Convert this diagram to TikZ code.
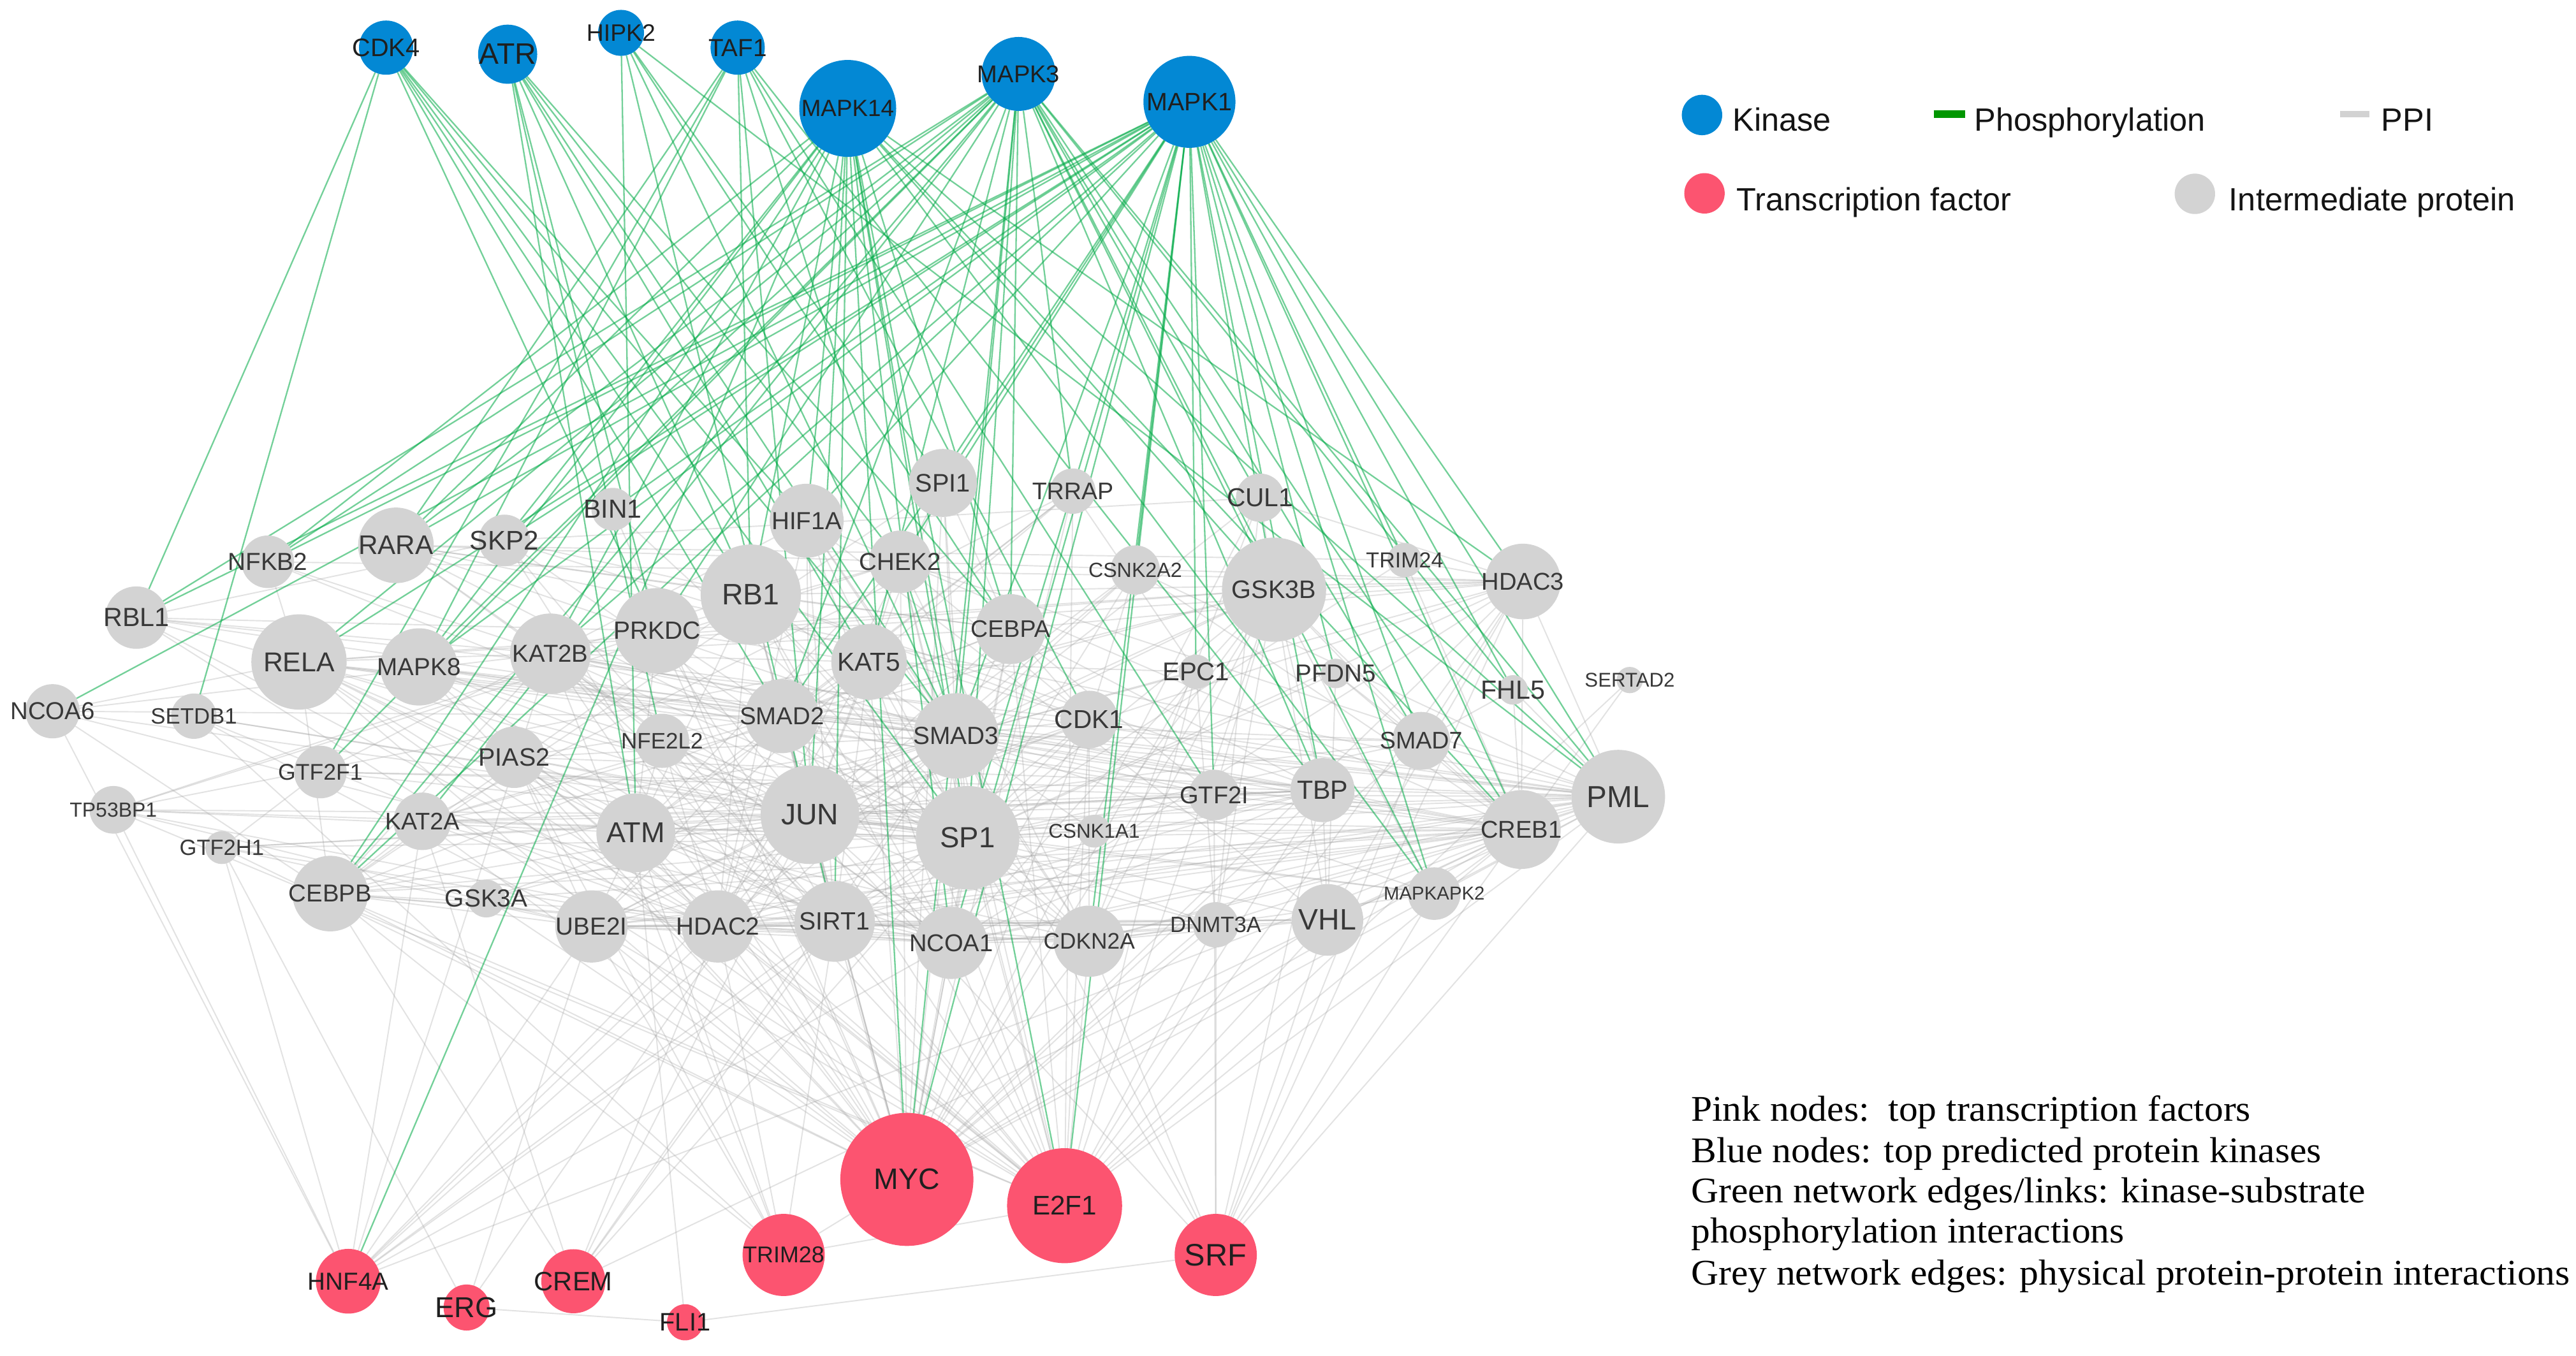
\documentclass[tikz,border=0pt]{standalone}
\usepackage{fontspec}
\setmainfont{Liberation Sans}
\newfontfamily\serifface{Liberation Serif}
\usepackage{graphicx}
\pgfdeclarelayer{bg}
\pgfsetlayers{bg,main}
\definecolor{kinblue}{RGB}{3,136,212}
\definecolor{tfpink}{RGB}{252,84,112}
\definecolor{intgrey}{RGB}{211,211,211}
\definecolor{phosgreen}{RGB}{0,170,70}
\definecolor{legendgreen}{RGB}{0,150,0}
\definecolor{ppigrey}{RGB}{210,210,210}
\tikzset{
  knode/.style={circle, fill=kinblue, draw=none, inner sep=0pt, outer sep=0pt},
  tnode/.style={circle, fill=tfpink, draw=none, inner sep=0pt, outer sep=0pt},
  inode/.style={circle, fill=intgrey, draw=none, inner sep=0pt, outer sep=0pt},
  knodelab/.style={inner sep=0pt, text=black!88},
  tnodelab/.style={inner sep=0pt, text=black!88},
  inodelab/.style={inner sep=0pt, text=black!78},
  gedge/.style={draw=black!35, opacity=0.32, line width=0.75pt},
  pedge/.style={draw=phosgreen, opacity=0.55, line width=0.9pt},
  lgtext/.style={anchor=base west, inner sep=0pt, text=black!92, font=\fontsize{19.6}{19.6}\selectfont},
  note/.style={anchor=base west, inner sep=0pt, text=black, font=\serifface\fontsize{22}{22}\selectfont}
}
\newcommand\pnode[6]{%
  \node[#1, minimum size=#5*2pt] (#2) at (#3,#4) {};
  \node[#1lab, font=\fontsize{#6}{#6}\selectfont] (#2-l) at (#2.center) {#2};
}
\begin{document}
\begin{tikzpicture}[x=1pt, y=-1pt]
\begin{pgfonlayer}{bg}
\fill[white] (0,0) rectangle (1568,825.5);
\end{pgfonlayer}
\useasboundingbox (0,0) rectangle (1568,825.5);

% kinases
\pnode{knode}{CDK4}{235}{29}{16.5}{15.4}
\pnode{knode}{ATR}{309}{33}{18}{18}
\pnode{knode}{HIPK2}{378}{20}{14}{14.5}
\pnode{knode}{TAF1}{449}{29}{16.5}{15}
\pnode{knode}{MAPK14}{516}{66}{29.5}{14.3}
\pnode{knode}{MAPK3}{620}{45}{22.5}{14.8}
\pnode{knode}{MAPK1}{724}{62}{28}{15.3}

% intermediate proteins
\pnode{inode}{SPI1}{574}{294}{20.7}{15.4}
\pnode{inode}{TRRAP}{653}{299}{13.8}{14.6}
\pnode{inode}{CUL1}{767}{303}{14.7}{15.8}
\pnode{inode}{BIN1}{373}{310}{13}{15.9}
\pnode{inode}{HIF1A}{491}{317}{22.5}{15}
\pnode{inode}{NFKB2}{163}{342}{16}{15}
\pnode{inode}{RARA}{241}{332}{23}{16.4}
\pnode{inode}{SKP2}{307}{329}{15.7}{16.4}
\pnode{inode}{CHEK2}{548}{342}{19}{14.9}
\pnode{inode}{CSNK2A2}{691}{347}{15}{12.5}
\pnode{inode}{TRIM24}{855}{341}{10.5}{13.2}
\pnode{inode}{HDAC3}{927}{354}{23}{14.8}
\pnode{inode}{GSK3B}{775.5}{359}{31.7}{15.4}
\pnode{inode}{RB1}{457}{362}{30.5}{18}
\pnode{inode}{RBL1}{83}{376}{19}{16}
\pnode{inode}{PRKDC}{400}{384}{26}{15.2}
\pnode{inode}{CEBPA}{615}{383}{21.3}{14.6}
\pnode{inode}{RELA}{182}{403}{29}{16.6}
\pnode{inode}{MAPK8}{255}{406}{23.5}{15}
\pnode{inode}{KAT2B}{335}{398}{24.5}{14.9}
\pnode{inode}{KAT5}{529}{403}{23}{15.8}
\pnode{inode}{EPC1}{728}{409}{10.5}{15.6}
\pnode{inode}{PFDN5}{813}{410}{9}{15}
\pnode{inode}{SERTAD2}{992}{414}{8}{12.1}
\pnode{inode}{FHL5}{921}{420}{9}{16}
\pnode{inode}{NCOA6}{32}{433}{16.5}{14.9}
\pnode{inode}{SETDB1}{118}{436}{13.8}{13.5}
\pnode{inode}{SMAD2}{476}{436}{22.5}{14.9}
\pnode{inode}{SMAD3}{582}{448}{26}{15.1}
\pnode{inode}{CDK1}{663}{438}{17.5}{15.8}
\pnode{inode}{SMAD7}{865}{451}{17.6}{14.6}
\pnode{inode}{NFE2L2}{403}{451}{16.5}{13.6}
\pnode{inode}{PIAS2}{313}{461}{18.7}{15.3}
\pnode{inode}{GTF2F1}{195}{470}{16}{13.8}
\pnode{inode}{TP53BP1}{69}{493}{14.5}{12.4}
\pnode{inode}{GTF2H1}{135}{516}{10}{13.4}
\pnode{inode}{KAT2A}{257}{500}{17.5}{14.6}
\pnode{inode}{ATM}{387}{507}{24}{17.5}
\pnode{inode}{JUN}{493}{496}{30}{18}
\pnode{inode}{SP1}{589}{510}{31.5}{17.7}
\pnode{inode}{CSNK1A1}{666}{506}{10}{12.2}
\pnode{inode}{GTF2I}{739}{484}{15.4}{14.8}
\pnode{inode}{TBP}{805}{481}{19.5}{16}
\pnode{inode}{CREB1}{926}{505}{24}{14.8}
\pnode{inode}{PML}{985}{485}{28.5}{18.5}
\pnode{inode}{CEBPB}{201}{544}{23}{14.9}
\pnode{inode}{GSK3A}{296}{547}{11.5}{15.1}
\pnode{inode}{UBE2I}{360}{564}{22}{15}
\pnode{inode}{HDAC2}{437}{564}{22}{15}
\pnode{inode}{SIRT1}{508}{561}{24.5}{15.2}
\pnode{inode}{NCOA1}{579}{574}{22}{14.8}
\pnode{inode}{CDKN2A}{663}{573}{21.7}{13.7}
\pnode{inode}{DNMT3A}{740}{563}{13.8}{13.5}
\pnode{inode}{VHL}{808}{560}{21.8}{18}
\pnode{inode}{MAPKAPK2}{873}{544}{16}{11.4}

% transcription factors
\pnode{tnode}{MYC}{552}{718}{40.5}{18}
\pnode{tnode}{E2F1}{648}{734}{35}{16.4}
\pnode{tnode}{TRIM28}{477}{764}{25}{13.9}
\pnode{tnode}{SRF}{740}{764}{25}{18.9}
\pnode{tnode}{HNF4A}{212}{780}{19.7}{15}
\pnode{tnode}{ERG}{284}{796}{14}{17.5}
\pnode{tnode}{CREM}{349}{780}{19.5}{16.2}
\pnode{tnode}{FLI1}{417}{805}{11}{15.4}

\begin{pgfonlayer}{bg}
% grey PPI edges
\foreach \s/\tl in {MYC/{RB1,SP1,JUN,SMAD3,SMAD2,KAT5,KAT2B,KAT2A,SIRT1,NCOA1,CDKN2A,HDAC2,UBE2I,ATM,PRKDC,RELA,CEBPB,TRRAP,SKP2,CUL1,GSK3B,GSK3A,PML,TBP,VHL,CREB1,HDAC3,SMAD7,EPC1,CHEK2,CEBPA,SPI1,PIAS2,DNMT3A,CDK1,BIN1,TRIM28,GTF2H1,NFE2L2,MAPK8},%
 E2F1/{RB1,RBL1,SP1,JUN,SIRT1,CDKN2A,CDK1,KAT2B,KAT5,HDAC2,HDAC3,ATM,CHEK2,TBP,PML,CREB1,UBE2I,NCOA1,MAPK8,SKP2,GSK3B,VHL,TRRAP,EPC1,RELA,CEBPA,DNMT3A,TP53BP1,CEBPB,TRIM28,SMAD3,PIAS2},%
 SRF/{SP1,JUN,CREB1,PML,VHL,MAPKAPK2,SMAD3,GTF2I,TBP,SMAD7,DNMT3A,HDAC3,FLI1,CDKN2A},%
 TRIM28/{SIRT1,UBE2I,SETDB1,CEBPB,ATM,HDAC2,PIAS2,KAT2B},%
 HNF4A/{NCOA6,TP53BP1,GTF2H1,KAT2A,KAT2B,NCOA1,SMAD3,SP1,JUN,SIRT1,HDAC2,UBE2I,CREB1},%
 ERG/{GTF2H1,JUN,UBE2I,FLI1},%
 CREM/{CEBPB,JUN,SP1,SMAD3,CREB1,HDAC2,SIRT1,KAT2A},%
 FLI1/{ATM},%
 RBL1/{RELA,KAT2B,PRKDC,SMAD3,CDK1,SKP2,HDAC2},%
 NCOA6/{RELA,KAT2B,CEBPB,NCOA1,SP1,SMAD2},%
 NFKB2/{RELA,KAT2B,HDAC3,SP1},%
 RARA/{NCOA1,SP1,HDAC3,TRIM24,PML,KAT2B,CEBPA,SMAD3,RB1},%
 SKP2/{CUL1,RB1,CDKN2A,CDK1},%
 BIN1/{SP1},%
 RELA/{SP1,JUN,KAT2B,SIRT1,HDAC2,HDAC3,GSK3B,CREB1,SMAD3,ATM,CEBPB,NCOA1,TBP,PML},%
 MAPK8/{JUN,SP1,SMAD3,SMAD2,PML,SIRT1,GTF2I},%
 KAT2B/{SP1,JUN,SMAD3,SMAD2,CEBPB,CEBPA,CREB1,TBP,PML,RB1,NCOA1,GTF2F1,SIRT1,KAT5},%
 PRKDC/{ATM,SP1,JUN,SIRT1,CHEK2,GSK3B,KAT5,TP53BP1},%
 RB1/{SP1,JUN,HDAC2,HDAC3,SIRT1,CDK1,SMAD3,CDKN2A,TBP,CEBPA,CEBPB,NCOA1,UBE2I},%
 HIF1A/{SP1,JUN,SIRT1,VHL,CREB1,SMAD3,HDAC2,NCOA1,KAT2B,CDKN2A},%
 SPI1/{JUN,CEBPA,CEBPB,SP1,HDAC2,SMAD3},%
 TRRAP/{KAT5,KAT2A,EPC1,ATM,SMAD2},%
 CUL1/{SMAD3,DNMT3A,CDKN2A,GSK3B,HDAC3},%
 CHEK2/{ATM,PML,SP1,CDK1,CDKN2A,TP53BP1,KAT5},%
 CSNK2A2/{SP1,JUN,PML,CREB1,HDAC2,CDK1,SMAD3},%
 CEBPA/{SP1,JUN,CEBPB,SMAD3,SMAD2,CDK1,TBP,GTF2I,HDAC3},%
 KAT5/{ATM,EPC1,SP1,JUN,SIRT1,HDAC2,SMAD2,UBE2I},%
 EPC1/{SMAD3,DNMT3A},%
 GSK3B/{JUN,SP1,SMAD3,CREB1,CDKN2A,TBP,GTF2I,HDAC3,VHL,NCOA1,SMAD2,KAT2A,SMAD7,CSNK1A1,DNMT3A,MAPKAPK2},%
 TRIM24/{HDAC3,SP1,CREB1},%
 HDAC3/{SP1,JUN,SMAD3,SMAD7,PML,CREB1,NCOA1,VHL},%
 PFDN5/{SMAD7,CREB1,VHL,SP1},%
 FHL5/{CREB1,SMAD7,PML},%
 SERTAD2/{E2F1,CREB1},%
 SMAD7/{SMAD3,SMAD2,SP1,JUN,PML,CREB1},%
 SMAD2/{SMAD3,SP1,JUN,UBE2I,HDAC2,NCOA1,PIAS2},%
 SMAD3/{SP1,JUN,SIRT1,HDAC2,NCOA1,CDKN2A,CDK1,UBE2I,PIAS2,CREB1,PML,TBP,GTF2I,MAPKAPK2},%
 CDK1/{SP1,JUN,CDKN2A,SIRT1,NCOA1,UBE2I,PML},%
 NFE2L2/{JUN,ATM,KAT2B,SIRT1,HDAC2},%
 PIAS2/{SP1,JUN,UBE2I,SIRT1,PML,HDAC2},%
 GTF2F1/{TBP,SP1,GTF2H1,GTF2I},%
 SETDB1/{SP1,HDAC2,JUN,UBE2I},%
 TP53BP1/{ATM,SP1,JUN,KAT5,HDAC2,UBE2I},%
 GTF2H1/{TBP,SP1,JUN,UBE2I,HDAC2},%
 KAT2A/{SP1,JUN,SMAD3,SMAD2,TBP,CEBPB,SIRT1,HDAC2},%
 ATM/{SP1,JUN,SIRT1,HDAC2,CDKN2A,NCOA1,SMAD3,PML},%
 JUN/{SP1,SIRT1,HDAC2,UBE2I,NCOA1,CREB1,TBP,CDKN2A,PML,GTF2I,DNMT3A,CSNK1A1,MAPKAPK2},%
 SP1/{SIRT1,HDAC2,UBE2I,NCOA1,CDKN2A,CREB1,TBP,PML,VHL,DNMT3A,CSNK1A1,GTF2I,MAPKAPK2},%
 CSNK1A1/{SMAD3,CREB1},%
 GTF2I/{TBP,CREB1,PML},%
 TBP/{CREB1,PML,VHL,NCOA1,HDAC2,SIRT1},%
 CREB1/{PML,MAPKAPK2,SIRT1,NCOA1,VHL,CDKN2A,HDAC2,UBE2I},%
 PML/{VHL,SIRT1,UBE2I,HDAC2,CDKN2A,NCOA1,DNMT3A,MAPKAPK2},%
 CEBPB/{SP1,JUN,HDAC2,SIRT1,UBE2I,NCOA1,SMAD3,CREB1},%
 GSK3A/{JUN,SMAD3,CREB1},%
 UBE2I/{SIRT1,HDAC2,NCOA1,CDKN2A,VHL,DNMT3A},%
 HDAC2/{SIRT1,NCOA1,CDKN2A,DNMT3A,VHL},%
 SIRT1/{NCOA1,CDKN2A,DNMT3A,VHL},%
 NCOA1/{CDKN2A,VHL,DNMT3A},%
 CDKN2A/{VHL,DNMT3A,MAPKAPK2}}{\foreach \t in \tl {\draw[gedge] (\s) -- (\t);}}
% green phosphorylation edges
\foreach \s/\tl in {CDK4/{RBL1,SETDB1,RB1,SMAD3,SMAD2,PRKDC,HIF1A,SP1},%
 ATR/{ATM,PRKDC,NFE2L2,RB1,CHEK2,KAT5,SMAD3,CEBPA},%
 HIPK2/{ATM,SIRT1,CEBPA,SMAD3,SPI1,PML},%
 TAF1/{GTF2F1,RARA,MAPK8,RB1,JUN,SMAD3,CDK1,TBP,GTF2I},%
 MAPK14/{HNF4A,CEBPB,NFKB2,RARA,MAPK8,KAT2B,SKP2,RB1,HIF1A,JUN,SP1,MYC,E2F1,SMAD3,CEBPA,GSK3B,MAPKAPK2,CREB1,PML,HDAC3,SIRT1,NCOA1},%
 MAPK3/{RBL1,NFKB2,RARA,SKP2,MAPK8,RELA,CEBPB,GTF2F1,PRKDC,KAT5,SMAD2,SMAD3,SP1,MYC,CEBPA,TRRAP,CUL1,GSK3B,SMAD7,CREB1,MAPKAPK2,PML,TBP,FHL5,KAT2A},%
 MAPK1/{NCOA6,RBL1,NFKB2,RARA,SKP2,RELA,MAPK8,KAT2B,CEBPB,BIN1,HIF1A,CHEK2,SPI1,SMAD3,SMAD2,SP1,MYC,E2F1,NCOA1,CDKN2A,CSNK2A2,EPC1,GSK3B,TRIM24,PFDN5,SMAD7,CREB1,MAPKAPK2,PML,HDAC3,FHL5,GTF2I,TBP}}{\foreach \t in \tl {\draw[pedge] (\s) -- (\t);}}
\end{pgfonlayer}

% legend
\node[knode, minimum size=24.6pt] (lgK) at (1036,70) {};
\node[lgtext] (lgKt) at (1054.5,79.6) {Kinase};
\coordinate (lgP1) at (1177,69.5);
\coordinate (lgP2) at (1196,69.5);
\draw[line width=4.5pt, legendgreen] (lgP1) -- (lgP2);
\node[lgtext] (lgPt) at (1201.6,79.6) {Phosphorylation};
\coordinate (lgG1) at (1424.5,69.5);
\coordinate (lgG2) at (1442.2,69.5);
\draw[line width=4pt, ppigrey] (lgG1) -- (lgG2);
\node[lgtext] (lgGt) at (1449.3,79.6) {PPI};
\node[tnode, minimum size=24.6pt] (lgT) at (1037.5,117.7) {};
\node[lgtext] (lgTt) at (1057,128.1) {Transcription factor};
\node[inode, minimum size=24.6pt] (lgI) at (1336,118) {};
\node[lgtext] (lgIt) at (1356.6,128.1) {Intermediate protein};

% notes
\node[note] (n1) at (1029.2,682.4) {\scalebox{1.05}[1]{Pink nodes:\ \ top transcription factors}};
\node[note] (n2) at (1029.2,707.7) {\scalebox{1.05}[1]{Blue nodes: top predicted protein kinases}};
\node[note] (n3) at (1029.2,732.3) {\scalebox{1.05}[1]{Green network edges/links: kinase-substrate}};
\node[note] (n4) at (1029.2,756.8) {\scalebox{1.05}[1]{phosphorylation interactions}};
\node[note] (n5) at (1029.2,782.1) {\scalebox{1.05}[1]{Grey network edges: physical protein-protein interactions}};
\end{tikzpicture}
\end{document}
